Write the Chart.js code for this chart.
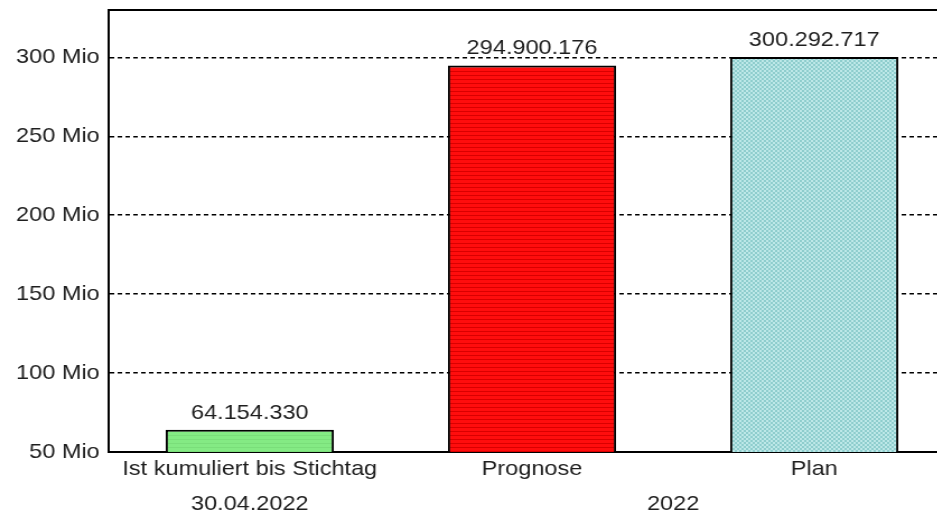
<!DOCTYPE html>
<html>
<head>
<meta charset="utf-8">
<script src="https://cdn.jsdelivr.net/npm/chart.js@4/dist/chart.umd.min.js"></script>
<style>
  html, body { margin: 0; padding: 0; background: #fff; overflow: hidden; }
  #wrap { width: 857px; height: 514px; transform: scaleX(1.12); transform-origin: 0 0; }
  canvas { display: block; }
</style>
</head>
<body>
<div id="wrap"><canvas id="c" width="857" height="514"></canvas></div>
<script>
// Categories and values (EUR)
const categories = ['Ist kumuliert bis Stichtag', 'Prognose', 'Plan'];
const values = [64154330, 294900176, 300292717];

// Second label row: text and the category indices it spans
const groupLabels = ['30.04.2022', '2022'];
const groupSpans = [[0, 0], [1, 2]];

// Y axis ticks in millions
const yTicksMio = [50, 100, 150, 200, 250, 300];
const yMinMio = 50;
const yMaxMio = 330;

const FONT = '"Liberation Sans", Arial, sans-serif';
const TEXT = '#1e1e1e';

function makePattern(w, h, draw) {
  const c = document.createElement('canvas');
  c.width = w; c.height = h;
  const g = c.getContext('2d');
  draw(g);
  return document.getElementById('c').getContext('2d').createPattern(c, 'repeat');
}

const greenFill = makePattern(1, 4, g => {
  g.fillStyle = '#84ea84'; g.fillRect(0, 0, 1, 4);
  g.fillStyle = '#7ade7a'; g.fillRect(0, 3, 1, 1);
});
const redFill = makePattern(1, 4, g => {
  g.fillStyle = '#ff0d0d'; g.fillRect(0, 0, 1, 4);
  g.fillStyle = '#d90000'; g.fillRect(0, 3, 1, 1);
});
const blueFill = makePattern(4, 4, g => {
  g.fillStyle = '#bde8e8'; g.fillRect(0, 0, 4, 4);
  g.fillStyle = '#8ecdcd'; g.fillRect(2, 0, 2, 2); g.fillRect(0, 2, 2, 2);
});

function formatDE(v) {
  return String(Math.round(v)).replace(/\B(?=(\d{3})+(?!\d))/g, '.');
}

// Values above the bars, the second label row and the top frame line
const extrasPlugin = {
  id: 'extras',
  afterDatasetsDraw(chart) {
    const ctx = chart.ctx;
    const meta = chart.getDatasetMeta(0);
    ctx.save();
    ctx.fillStyle = TEXT;
    ctx.font = '21px ' + FONT;
    ctx.textAlign = 'center';
    ctx.textBaseline = 'alphabetic';
    meta.data.forEach((bar, i) => {
      ctx.fillText(formatDE(values[i]), bar.x, bar.y - 11);
    });
    ctx.restore();
  },
  afterDraw(chart) {
    const ctx = chart.ctx;
    const xs = chart.scales.x;
    const area = chart.chartArea;
    ctx.save();
    ctx.fillStyle = TEXT;
    ctx.font = '21px ' + FONT;
    ctx.textAlign = 'center';
    ctx.textBaseline = 'middle';
    groupLabels.forEach((label, i) => {
      const [a, b] = groupSpans[i];
      const x = (xs.getPixelForValue(a) + xs.getPixelForValue(b)) / 2;
      ctx.fillText(label, x, 504);
    });
    ctx.strokeStyle = '#000';
    ctx.lineWidth = 2;
    ctx.beginPath();
    ctx.moveTo(area.left - 1, area.top);
    ctx.lineTo(chart.width, area.top);
    ctx.stroke();
    ctx.restore();
  }
};

new Chart(document.getElementById('c'), {
  type: 'bar',
  data: {
    labels: categories,
    datasets: [{
      data: values,
      backgroundColor: [greenFill, redFill, blueFill],
      borderColor: '#000',
      borderWidth: 2,
      borderSkipped: false,
      barPercentage: 0.596,
      categoryPercentage: 1
    }]
  },
  options: {
    responsive: false,
    animation: false,
    devicePixelRatio: 1,
    layout: { padding: { top: 10, right: 4, left: 0, bottom: 0 } },
    plugins: { legend: { display: false }, tooltip: { enabled: false } },
    scales: {
      x: {
        grid: { display: false, drawTicks: false },
        border: { display: true, color: '#000', width: 2 },
        ticks: { color: TEXT, font: { family: FONT, size: 21 }, padding: 5, maxRotation: 0, autoSkip: false },
        afterFit(scale) { scale.height = 62; scale.paddingLeft = 0; scale.paddingRight = 0; }
      },
      y: {
        min: yMinMio * 1e6,
        max: yMaxMio * 1e6,
        grid: {
          color: '#000',
          lineWidth: 1.5,
          drawTicks: false
        },
        border: { display: true, color: '#000', width: 2, dash: [4, 3] },
        ticks: {
          color: TEXT,
          font: { family: FONT, size: 21 },
          padding: 8,
          callback: v => (v / 1e6) + ' Mio'
        },
        afterBuildTicks(scale) {
          scale.ticks = yTicksMio.map(m => ({ value: m * 1e6 }));
        },
        afterFit(scale) { scale.width = 97; scale.paddingTop = 0; scale.paddingBottom = 0; }
      }
    }
  },
  plugins: [extrasPlugin]
});
</script>
</body>
</html>
